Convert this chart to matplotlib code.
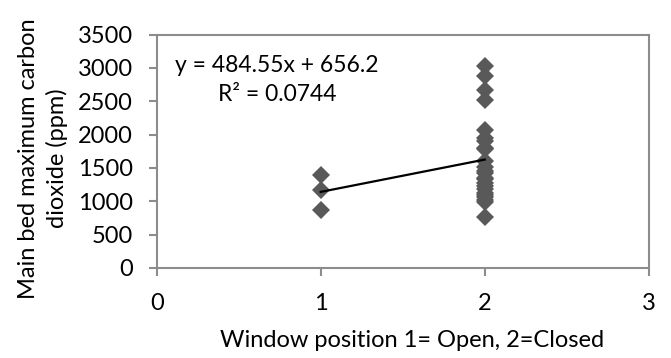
import matplotlib
matplotlib.use("Agg")
import matplotlib.pyplot as plt
import numpy as np

plt.rcParams['font.family'] = ['Lato', 'DejaVu Sans']

# Window position (1 = open, 2 = closed) and peak CO2 readings (ppm)
open_ppm = [1390, 1165, 868]
closed_ppm = [3030, 2885, 2665, 2515,
              2065, 1950, 1900, 1800, 1780, 1600, 1520, 1450, 1420,
              1350, 1330, 1280, 1230, 1190, 1130, 1100, 1070, 1020, 985,
              760]
window = [1] * len(open_ppm) + [2] * len(closed_ppm)
co2 = open_ppm + closed_ppm

# Linear trend reported for the series
slope = 484.55
intercept = 656.2
r_squared = 0.0744

x_ticks = [0, 1, 2, 3]
y_ticks = [0, 500, 1000, 1500, 2000, 2500, 3000, 3500]

fig = plt.figure(figsize=(6.71, 3.58), dpi=100)
ax = fig.add_axes([0.2335, 0.2514, 0.9668 - 0.2335, 0.9036 - 0.2514])

ax.plot(window, co2, linestyle='none', marker='D', markersize=9,
        color='#595959', markeredgewidth=0, zorder=3)

fit_x = np.array([min(window), max(window)])
ax.plot(fit_x, slope * fit_x + intercept, color='black', linewidth=1.6, zorder=4)

ax.set_xlim(0, 3)
ax.set_ylim(0, 3500)
ax.set_xticks(x_ticks)
ax.set_yticks(y_ticks)

axis_gray = '#8c8c8c'
for side in ['left', 'bottom', 'top', 'right']:
    ax.spines[side].set_color(axis_gray)
    ax.spines[side].set_linewidth(1.5)
ax.tick_params(axis='both', direction='out', length=6, width=1.5,
               color=axis_gray, labelsize=17, labelcolor='black')
ax.tick_params(axis='x', pad=12)
ax.tick_params(axis='y', pad=11)

ax.set_xlabel('Window position 1= Open, 2=Closed', fontsize=17)
ax.xaxis.set_label_coords(0.52, -0.265)
ax.set_ylabel('Main bed maximum carbon\ndioxide (ppm)', fontsize=17,
              linespacing=1.4)
ax.yaxis.set_label_coords(-0.18, 0.47)

ax.text(0.733, 2934, f'y = {slope}x + {intercept}', fontsize=16.5,
        ha='center', va='baseline')
ax.text(0.733, 2510, f'R² = {r_squared}', fontsize=16.5,
        ha='center', va='baseline')

fig.savefig('out.png', dpi=100)
